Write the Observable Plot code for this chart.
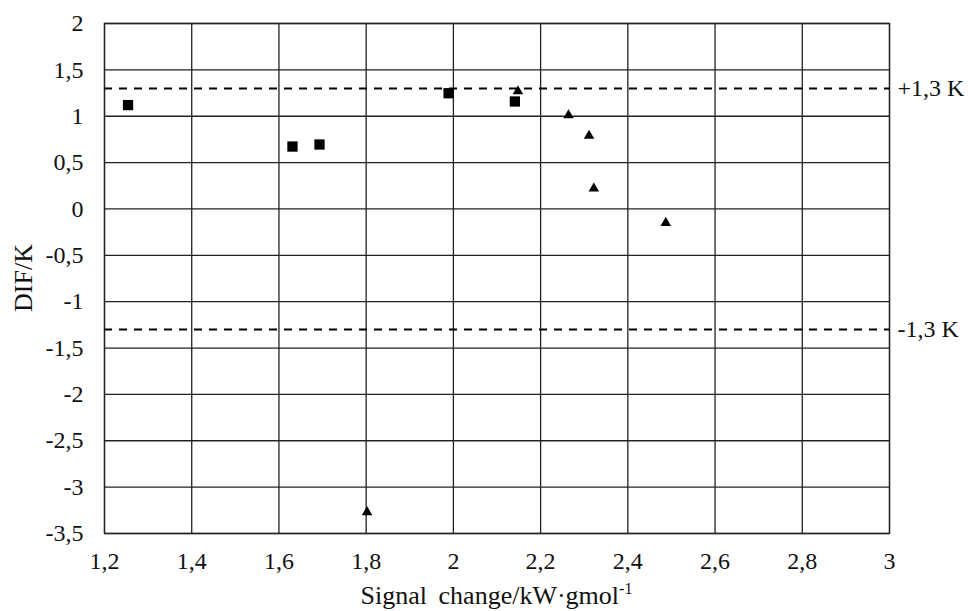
<!DOCTYPE html>
<html>
<head>
<meta charset="utf-8">
<script src="https://cdn.jsdelivr.net/npm/d3@7"></script>
<script src="https://cdn.jsdelivr.net/npm/@observablehq/plot@0.6"></script>
<style>
  body { margin: 0; background: #fff; }
  svg { font-family: "Liberation Serif", "Times New Roman", serif; }
</style>
</head>
<body>
<div id="chart"></div>
<script>
// Square series
const squareX = [1.254, 1.631, 1.693, 1.989, 2.141];
const squareY = [1.12, 0.673, 0.695, 1.248, 1.159];
// Triangle series
const triX = [1.802, 2.148, 2.264, 2.311, 2.322, 2.487];
const triY = [-3.27, 1.27, 1.01, 0.79, 0.22, -0.15];
// Limit lines
const limits = [1.3, -1.3];
const limitLabels = ["+1,3 K", "-1,3 K"];
// Ticks
const xTicks = [1.2, 1.4, 1.6, 1.8, 2, 2.2, 2.4, 2.6, 2.8, 3];
const yTicks = [2, 1.5, 1, 0.5, 0, -0.5, -1, -1.5, -2, -2.5, -3, -3.5];

const squares = squareX.map((x, i) => ({x, y: squareY[i]}));
const tris = triX.map((x, i) => ({x, y: triY[i]}));
const lim = limits.map((v, i) => ({v, label: limitLabels[i]}));
const fmt = d => String(d).replace(".", ",");

const plot = Plot.plot({
  width: 968,
  height: 611,
  marginLeft: 104,
  marginRight: 79,
  marginTop: 23,
  marginBottom: 78,
  style: {fontFamily: "'Liberation Serif', 'Times New Roman', serif", fontSize: "24px", background: "#fff", overflow: "visible"},
  x: {domain: [1.2, 3]},
  y: {domain: [-3.5, 2]},
  marks: [
    Plot.gridX(xTicks, {stroke: "#222", strokeOpacity: 1, strokeWidth: 1.3}),
    Plot.gridY(yTicks, {stroke: "#222", strokeOpacity: 1, strokeWidth: 1.3}),
    Plot.frame({stroke: "#222", strokeWidth: 1.3}),
    Plot.axisX({ticks: xTicks, tickFormat: fmt, tickSize: 0, tickPadding: 18, label: null, fontSize: 24, fill: "#111"}),
    Plot.axisY({ticks: yTicks, tickFormat: fmt, tickSize: 0, tickPadding: 21, label: null, fontSize: 24, fill: "#111"}),
    Plot.ruleY(lim, {y: "v", stroke: "#000", strokeWidth: 2, strokeDasharray: "8,7"}),
    Plot.text(lim, {x: () => 3, y: "v", text: "label", textAnchor: "start", dx: 8, fontSize: 24, fill: "#111"}),
    Plot.dot(squares, {x: "x", y: "y", symbol: "square", r: 5.8, fill: "#000", stroke: null}),
    Plot.dot(tris, {x: "x", y: "y", symbol: "triangle", r: 3.9, fill: "#000", stroke: null})
  ]
});

const svg = d3.select(plot);
// Axis titles
svg.append("text")
  .attr("x", (104 + 889) / 2)
  .attr("y", 604)
  .attr("text-anchor", "middle")
  .attr("font-size", 26)
  .attr("word-spacing", 5)
  .attr("fill", "#111")
  .call(t => {
    t.append("tspan").text("Signal change/kW·gmol");
    t.append("tspan").attr("dy", -10).attr("font-size", 16).text("-1");
  });
svg.append("text")
  .attr("transform", "translate(32,278) rotate(-90)")
  .attr("text-anchor", "middle")
  .attr("font-size", 26)
  .attr("fill", "#111")
  .text("DIF/K");

document.getElementById("chart").appendChild(plot);
</script>
</body>
</html>
